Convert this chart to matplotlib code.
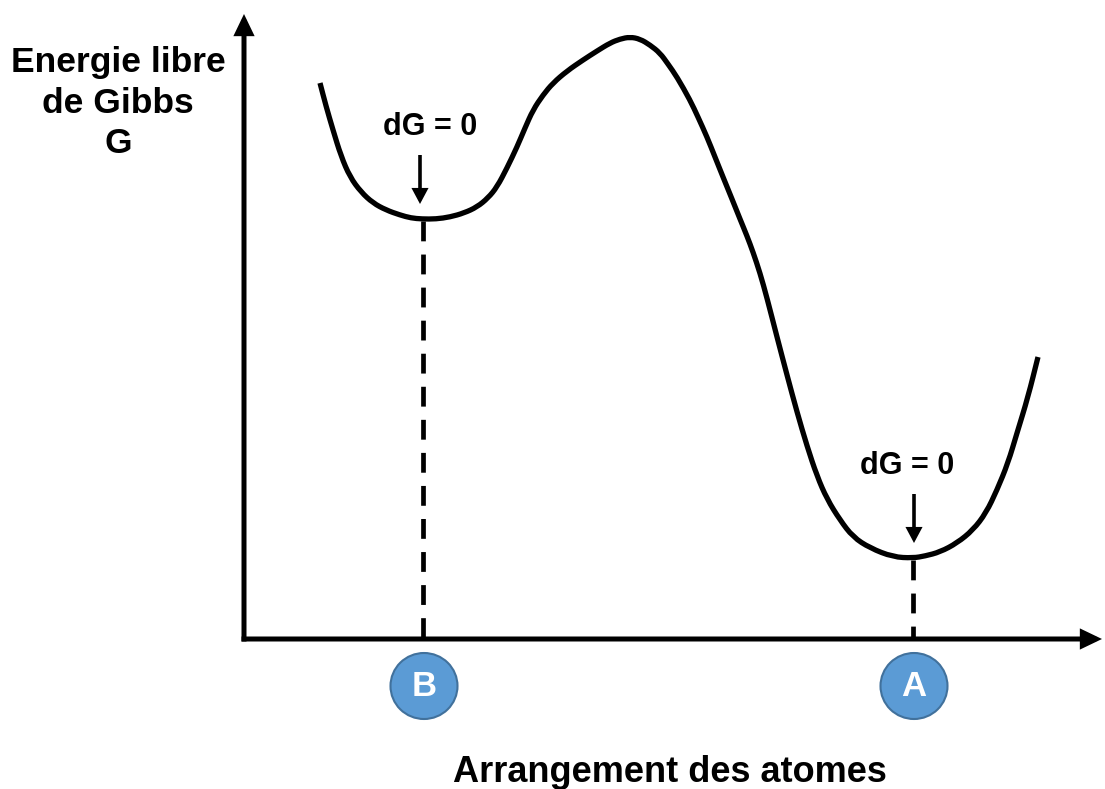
import numpy as np
import matplotlib.pyplot as plt
from matplotlib.patches import Ellipse, PathPatch
from matplotlib.path import Path

plt.rcParams['font.family'] = ['Liberation Sans', 'DejaVu Sans']

# curve (pixel coordinates, y grows downwards)
curve_x = [320, 326, 333, 341, 350, 361, 373, 386, 400, 411, 422, 436, 450, 464, 477,
           488, 497, 507, 517, 525, 533, 543, 553, 567, 583, 597, 610, 620, 630, 640,
           650, 660, 668, 677, 690, 698, 707, 715, 723, 732, 740, 747, 753, 760, 767,
           777, 787, 797, 807, 817, 827, 840, 853, 870, 893, 913, 925, 940, 957, 973,
           986, 997, 1008, 1017, 1028, 1038]
curve_y = [83, 106, 130, 156, 177, 192, 203, 210, 215, 218, 219, 219, 217, 213, 207,
           198, 187, 168, 147, 128, 110, 95, 83, 71, 60, 51, 43, 39, 37, 39,
           45, 53, 64, 77, 100, 117, 137, 157, 177, 199, 219, 236, 252, 273, 298,
           337, 375, 412, 446, 476, 499, 520, 537, 548, 557, 558, 556, 552, 543, 530,
           513, 490, 463, 433, 397, 357]

# equilibrium points
eq_x = [424, 914]
eq_y = [219, 558]
eq_names = ['B', 'A']
eq_label = 'dG = 0'

x_origin, y_origin = 244, 639


def smooth_path(xs, ys):
    # quadratic beziers through the midpoints, control points at the read points
    pts = np.column_stack([xs, ys]).astype(float)
    mids = (pts[:-1] + pts[1:]) / 2
    verts = [pts[0], mids[0]]
    codes = [Path.MOVETO, Path.LINETO]
    for i in range(1, len(pts) - 1):
        verts += [pts[i], mids[i]]
        codes += [Path.CURVE3, Path.CURVE3]
    verts.append(pts[-1])
    codes.append(Path.LINETO)
    return Path(verts, codes)


fig = plt.figure(figsize=(11.05, 7.89), dpi=100)
ax = fig.add_axes([0, 0, 1, 1])
ax.set_xlim(0, 1105)
ax.set_ylim(789, 0)
ax.axis('off')

# axes with arrows
axis_arrow = dict(arrowstyle='-|>,head_width=0.24,head_length=0.5', lw=3.6,
                  color='black', mutation_scale=20, shrinkA=0, shrinkB=0,
                  joinstyle='miter', capstyle='butt')
ax.annotate('', xy=(1102, y_origin), xytext=(x_origin - 2.5, y_origin),
            arrowprops=axis_arrow, annotation_clip=False)
ax.annotate('', xy=(x_origin, 14), xytext=(x_origin, y_origin + 2.5),
            arrowprops=axis_arrow, annotation_clip=False)

ax.add_patch(PathPatch(smooth_path(curve_x, curve_y), facecolor='none',
                       edgecolor='black', lw=3.8, capstyle='butt', joinstyle='round'))

small_arrow = dict(arrowstyle='-|>,head_width=0.4,head_length=0.75', lw=2.6,
                   color='black', mutation_scale=10, shrinkA=0, shrinkB=0,
                   joinstyle='miter', capstyle='butt')
for x, y, name in zip(eq_x, eq_y, eq_names):
    ax.plot([x - 1, x - 1], [y + 2, y_origin], color='black', lw=3.4,
            ls=(0, (4.2, 2.8)), solid_capstyle='butt')
    ax_x = x - 4 if name == 'B' else x
    ax.annotate('', xy=(ax_x, y - 15), xytext=(ax_x, y - 64), arrowprops=small_arrow)
    ax.text(x + 6 if name == 'B' else x - 7, y - 92, eq_label, ha='center', va='center',
            fontsize=22, fontweight='bold')
    ax.add_patch(Ellipse((x, 686), 67, 66, facecolor='#5b9bd5', edgecolor='#41719c',
                         lw=1.5))
    ax.text(x, 687, name, ha='center', va='center', color='white',
            fontsize=25, fontweight='bold')

ax.text(118, 103, 'Energie libre\nde Gibbs\nG', ha='center', va='center',
        fontsize=25.5, fontweight='bold', linespacing=1.28)
ax.text(670, 772, 'Arrangement des atomes', ha='center', va='center',
        fontsize=26, fontweight='bold')

fig.savefig('out.png', dpi=100)
